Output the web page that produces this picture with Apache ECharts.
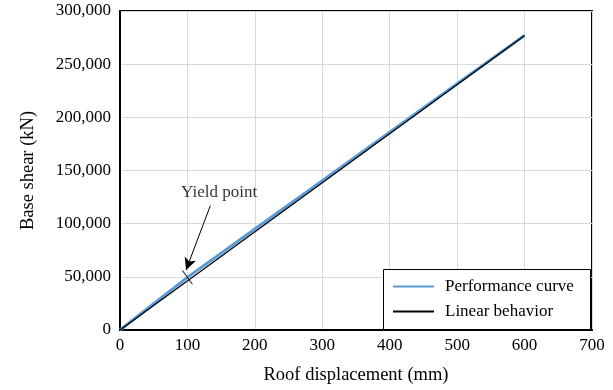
<!DOCTYPE html>
<html><head><meta charset="utf-8">
<script src="https://cdn.jsdelivr.net/npm/echarts@6/dist/echarts.min.js"></script>
<style>html,body{margin:0;padding:0;background:#fff}#c{width:613px;height:390px}</style>
</head><body><div id="c"></div>
<script>
const xTicks = [0, 100, 200, 300, 400, 500, 600, 700];
const yTicks = [0, 50000, 100000, 150000, 200000, 250000, 300000];
const perfDisp = [0, 100, 200, 300, 400, 500, 600];
const perfShear = [0, 49500, 95000, 140500, 186000, 231500, 277000];
const linDisp = [0, 600];
const linShear = [0, 277000];
const yieldDisp = [100];
const yieldShear = [49500];
const seriesNames = ['Performance curve', 'Linear behavior'];
const annotationText = 'Yield point';

const font = '"Liberation Serif", "Times New Roman", serif';
const chart = echarts.init(document.getElementById('c'));
const zip = (a, b) => a.map((v, i) => [v, b[i]]);
chart.setOption({
  animation: false,
  grid: { left: 120, right: 21, top: 11, bottom: 58, show: true, borderColor: '#000', borderWidth: 2 },
  graphic: [{
    type: 'rect', z: 5, silent: true,
    shape: { x: 383.5, y: 269.5, width: 207, height: 60 },
    style: { fill: '#fff', stroke: '#000', lineWidth: 1 }
  }],
  xAxis: {
    type: 'value', min: xTicks[0], max: xTicks[xTicks.length - 1], interval: 100,
    name: 'Roof displacement (mm)', nameLocation: 'middle', nameGap: 36,
    nameTextStyle: { fontFamily: font, fontSize: 18.5, color: '#000' },
    axisLine: { show: true, lineStyle: { color: '#000', width: 2 } },
    axisTick: { show: false },
    axisLabel: { fontFamily: font, fontSize: 17, color: '#000', margin: 7 },
    splitLine: { show: true, lineStyle: { color: '#d9d9d9', width: 1 } }
  },
  yAxis: {
    type: 'value', min: yTicks[0], max: yTicks[yTicks.length - 1], interval: 50000,
    name: 'Base shear (kN)', nameLocation: 'middle', nameGap: 82, nameRotate: 90,
    nameTextStyle: { fontFamily: font, fontSize: 18.5, color: '#000' },
    axisLine: { show: true, lineStyle: { color: '#000', width: 2 } },
    axisTick: { show: false },
    axisLabel: { fontFamily: font, fontSize: 17, color: '#000', margin: 9,
      formatter: v => v.toLocaleString('en-US') },
    splitLine: { show: true, lineStyle: { color: '#d9d9d9', width: 1 } }
  },
  legend: {
    orient: 'vertical', left: 383, top: 270, z: 10,
    data: seriesNames,
    padding: [8, 5, 10, 9], itemGap: 8, itemWidth: 41, itemHeight: 17,
    itemStyle: { opacity: 0 },
    textStyle: { fontFamily: font, fontSize: 17, color: '#000', padding: [0, 0, 0, 6] }
  },
  series: [
    {
      name: seriesNames[0], type: 'line', data: zip(perfDisp, perfShear),
      showSymbol: false, symbol: 'none', z: 2,
      lineStyle: { color: '#5B9BD5', width: 3 }, itemStyle: { color: '#5B9BD5' },
      markLine: {
        silent: true, symbol: ['none', 'arrow'], symbolSize: [9, 12],
        lineStyle: { color: '#000', width: 1, type: 'solid' },
        label: { show: false },
        data: [[{ coord: [134, 117000] }, { coord: [98, 56500] }]]
      }
    },
    {
      name: seriesNames[1], type: 'line', data: zip(linDisp, linShear),
      showSymbol: false, symbol: 'none', z: 3,
      lineStyle: { color: '#000', width: 1.3 }, itemStyle: { color: '#000' }
    },
    {
      name: 'yield', type: 'scatter', data: zip(yieldDisp, yieldShear), z: 4,
      symbol: 'rect', symbolSize: [1.2, 17], symbolRotate: 36,
      itemStyle: { color: '#000' }, silent: true,
      label: { show: false }
    },
    {
      name: 'ann', type: 'scatter', data: [[147, 129500]], symbolSize: 0, silent: true,
      label: { show: true, position: 'inside', formatter: annotationText,
        fontFamily: font, fontSize: 17, color: '#000' }
    }
  ]
});
</script></body></html>
